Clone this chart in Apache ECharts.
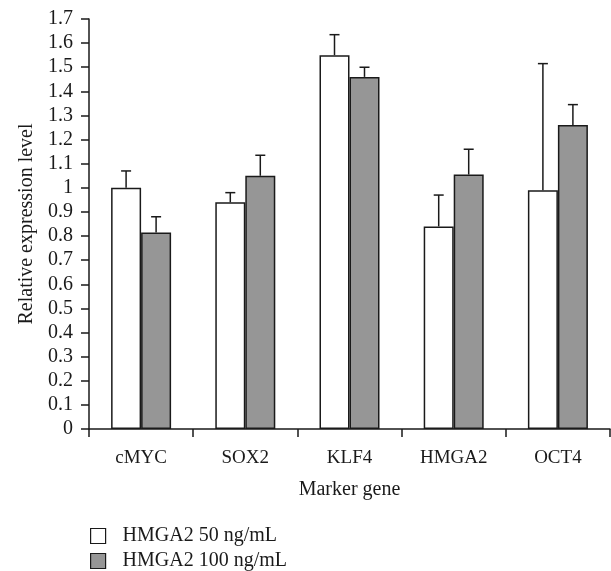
<!DOCTYPE html>
<html>
<head>
<meta charset="utf-8">
<script src="https://cdn.jsdelivr.net/npm/echarts@6/dist/echarts.min.js"></script>
<style>html,body{margin:0;padding:0;background:#fff;}#c{width:611px;height:571px;}</style>
</head>
<body>
<div id="c"></div>
<script>
var categories = ['cMYC', 'SOX2', 'KLF4', 'HMGA2', 'OCT4'];
var seriesNames = ['HMGA2 50 ng/mL', 'HMGA2 100 ng/mL'];
var values50 = [1.00, 0.94, 1.55, 0.84, 0.99];
var values100 = [0.815, 1.05, 1.46, 1.055, 1.26];
var err50 = [0.07, 0.04, 0.085, 0.13, 0.525];
var err100 = [0.065, 0.085, 0.04, 0.105, 0.085];

var FONT = '"Liberation Serif", "Times New Roman", serif';
var BAR_W = 30;

function errData(vals, errs) {
  return vals.map(function (v, i) { return [i, v, v + errs[i]]; });
}
function errRender(offset) {
  return function (params, api) {
    var base = api.coord([api.value(0), api.value(1)]);
    var top = api.coord([api.value(0), api.value(2)]);
    var x = base[0] + offset;
    var style = { stroke: '#1a1a1a', lineWidth: 1.5 };
    return {
      type: 'group',
      children: [
        { type: 'line', shape: { x1: x, y1: base[1], x2: x, y2: top[1] }, style: style },
        { type: 'line', shape: { x1: x - 5, y1: top[1], x2: x + 5, y2: top[1] }, style: style }
      ]
    };
  };
}

var chart = echarts.init(document.getElementById('c'), null, { renderer: 'canvas' });
chart.setOption({
  animation: false,
  backgroundColor: '#fff',
  textStyle: { fontFamily: FONT, color: '#1a1a1a' },
  grid: { left: 89, right: 1, top: 19, bottom: 142, containLabel: false },
  legend: {
    orient: 'vertical',
    left: 90,
    top: 526,
    padding: 0,
    itemWidth: 15,
    itemHeight: 15,
    itemGap: 5,
    icon: 'rect',
    align: 'left',
    textStyle: { fontFamily: FONT, fontSize: 20, color: '#1a1a1a', padding: [0, 0, 0, 12] },
    data: [
      { name: seriesNames[0], itemStyle: { color: '#ffffff', borderColor: '#1a1a1a', borderWidth: 1.2 } },
      { name: seriesNames[1], itemStyle: { color: '#969696', borderColor: '#1a1a1a', borderWidth: 1.2 } }
    ]
  },
  xAxis: {
    type: 'category',
    data: categories,
    boundaryGap: true,
    name: 'Marker gene',
    nameLocation: 'middle',
    nameGap: 51,
    nameTextStyle: { fontFamily: FONT, fontSize: 20, color: '#1a1a1a' },
    axisLine: { lineStyle: { color: '#1a1a1a', width: 1.5 } },
    axisTick: { show: true, length: 8, alignWithLabel: false, lineStyle: { color: '#1a1a1a', width: 1.5 } },
    axisLabel: { fontFamily: FONT, fontSize: 19, color: '#1a1a1a', margin: 20 },
    splitLine: { show: false }
  },
  yAxis: {
    type: 'value',
    min: 0,
    max: 1.7,
    interval: 0.1,
    name: 'Relative expression level',
    nameLocation: 'middle',
    nameGap: 48,
    nameTextStyle: { fontFamily: FONT, fontSize: 20, color: '#1a1a1a' },
    axisLine: { show: true, lineStyle: { color: '#1a1a1a', width: 1.5 } },
    axisTick: { show: true, length: 8, lineStyle: { color: '#1a1a1a', width: 1.5 } },
    axisLabel: { fontFamily: FONT, fontSize: 20, color: '#1a1a1a', margin: 16 },
    splitLine: { show: false }
  },
  series: [
    {
      name: seriesNames[0], type: 'bar', data: values50, barWidth: BAR_W, barGap: '0%',
      itemStyle: { color: '#ffffff', borderColor: '#1a1a1a', borderWidth: 1.5 }
    },
    {
      name: seriesNames[1], type: 'bar', data: values100, barWidth: BAR_W, barGap: '0%',
      itemStyle: { color: '#969696', borderColor: '#1a1a1a', borderWidth: 1.5 }
    },
    {
      type: 'custom', name: 'err50', data: errData(values50, err50), z: 5,
      renderItem: errRender(-BAR_W / 2), silent: true
    },
    {
      type: 'custom', name: 'err100', data: errData(values100, err100), z: 5,
      renderItem: errRender(BAR_W / 2), silent: true
    }
  ]
});
</script>
</body>
</html>
